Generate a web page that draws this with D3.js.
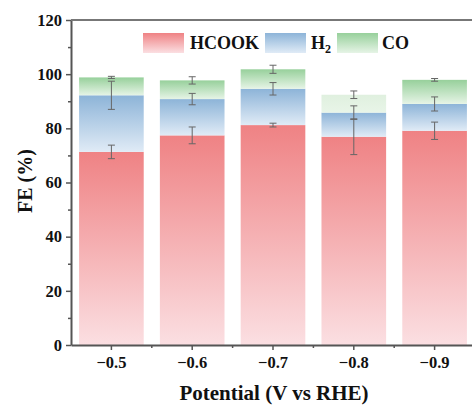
<!DOCTYPE html>
<html lang="en">
<head>
    <meta charset="UTF-8">
    <title>FE stacked bars</title>
    <script src="https://cdn.jsdelivr.net/npm/d3@7/dist/d3.min.js"></script>
    <style>
        body { margin: 0; background: #fff; }
        svg { display: block; }
    </style>
</head>
<body>
<script>
    // data
    const potentials = ['−0.5', '−0.6', '−0.7', '−0.8', '−0.9'];
    const hcook = [71.3, 77.4, 81.2, 76.9, 79.1];
    const h2 = [20.9, 13.4, 13.4, 8.9, 9.9];
    const co = [6.6, 6.9, 7.2, 6.6, 8.9];
    const hcookErr = [2.5, 3.1, 0.7, 6.6, 3.2];
    const h2Err = [5.2, 2.1, 2.3, 2.5, 2.6];
    const coErr = [0.4, 1.35, 1.5, 1.4, 0.5];
    const yTicks = [0, 20, 40, 60, 80, 100, 120];

    const width = 472, height = 408;
    const plotL = 71, plotR = 475, plotT = 20, plotB = 345;
    const serif = "'Liberation Serif', 'Times New Roman', Times, serif";

    const svg = d3.select('body').append('svg')
        .attr('width', width)
        .attr('height', height);

    // gradients (top colour -> pale bottom)
    const defs = svg.append('defs');
    const grads = [
        { id: 'gHcook', c1: '#ef8284', c2: '#fbdfe2' },
        { id: 'gH2', c1: '#8db4d8', c2: '#e0ebf6' },
        { id: 'gCo', c1: '#97d09b', c2: '#e6f4e6' },
        { id: 'gCoPale', c1: '#e0f0df', c2: '#e8f5e8' }
    ];
    grads.forEach(g => {
        const lg = defs.append('linearGradient').attr('id', g.id)
            .attr('x1', 0).attr('y1', 0).attr('x2', 0).attr('y2', 1);
        lg.append('stop').attr('offset', '0%').attr('stop-color', g.c1);
        lg.append('stop').attr('offset', '100%').attr('stop-color', g.c2);
    });

    const x = d3.scaleBand().domain(potentials).range([plotL, plotR]).paddingInner(0.2).paddingOuter(0.1);
    const y = d3.scaleLinear().domain([0, 120]).range([plotB, plotT]);

    // stack the three products
    const rows = potentials.map((p, i) => ({ p: p, HCOOK: hcook[i], H2: h2[i], CO: co[i] }));
    const keys = ['HCOOK', 'H2', 'CO'];
    const errs = { HCOOK: hcookErr, H2: h2Err, CO: coErr };
    const stacked = d3.stack().keys(keys)(rows);
    const fills = { HCOOK: 'url(#gHcook)', H2: 'url(#gH2)', CO: 'url(#gCo)' };

    const layers = svg.append('g').selectAll('g')
        .data(stacked)
        .enter().append('g');

    layers.selectAll('rect')
        .data(d => d.map((v, i) => ({ key: d.key, v: v, i: i })))
        .enter().append('rect')
        .attr('x', d => x(d.v.data.p))
        .attr('width', x.bandwidth())
        .attr('y', d => y(d.v[1]))
        .attr('height', d => y(d.v[0]) - y(d.v[1]))
        .attr('fill', d => (d.key === 'CO' && d.i === 3) ? 'url(#gCoPale)' : fills[d.key]);

    // error bars at each segment top
    const eb = svg.append('g').attr('stroke', '#666').attr('stroke-width', 1);
    stacked.forEach(layer => {
        layer.forEach((v, i) => {
            const cx = x(v.data.p) + x.bandwidth() / 2;
            const e = errs[layer.key][i];
            const y1 = y(v[1] + e), y2 = y(v[1] - e);
            eb.append('line').attr('x1', cx).attr('x2', cx).attr('y1', y1).attr('y2', y2);
            eb.append('line').attr('x1', cx - 3.5).attr('x2', cx + 3.5).attr('y1', y1).attr('y2', y1);
            eb.append('line').attr('x1', cx - 3.5).attr('x2', cx + 3.5).attr('y1', y2).attr('y2', y2);
        });
    });

    // axes
    const yAxis = svg.append('g').attr('transform', `translate(${plotL},0)`)
        .call(d3.axisLeft(y).tickValues(yTicks).tickSize(5).tickPadding(4).tickSizeOuter(0));
    // minor y ticks
    svg.append('g').attr('transform', `translate(${plotL},0)`)
        .call(d3.axisLeft(y).tickValues(d3.range(10, 120, 20)).tickSize(3).tickFormat('').tickSizeOuter(0))
        .call(g => g.select('.domain').remove())
        .selectAll('.tick line').attr('stroke', '#555').attr('stroke-width', 1.5);

    const xAxis = svg.append('g').attr('transform', `translate(0,${plotB})`)
        .call(d3.axisBottom(x).tickSize(5).tickPadding(6).tickSizeOuter(0));
    // minor x ticks between bars
    const minorX = potentials.slice(1).map(p => x(p) - x.step() * x.paddingInner() / 2);
    svg.append('g').selectAll('line').data(minorX).enter().append('line')
        .attr('x1', d => d).attr('x2', d => d)
        .attr('y1', plotB).attr('y2', plotB + 3)
        .attr('stroke', '#555').attr('stroke-width', 1.5);

    [yAxis, xAxis].forEach(a => {
        a.attr('font-family', serif).attr('font-weight', 'bold');
        a.select('.domain').attr('stroke', '#555').attr('stroke-width', 2);
        a.selectAll('.tick line').attr('stroke', '#555').attr('stroke-width', 1.5);
        a.selectAll('.tick text').attr('font-size', 16.5).attr('fill', '#111');
    });

    // top frame line
    svg.append('line')
        .attr('x1', plotL).attr('x2', width).attr('y1', plotT).attr('y2', plotT)
        .attr('stroke', '#777').attr('stroke-width', 2);

    // axis titles
    svg.append('text')
        .attr('transform', `translate(32,181) rotate(-90)`)
        .attr('text-anchor', 'middle')
        .attr('font-family', serif).attr('font-weight', 'bold').attr('font-size', 20).attr('fill', '#111')
        .text('FE (%)');
    svg.append('text')
        .attr('x', 274).attr('y', 400)
        .attr('text-anchor', 'middle')
        .attr('font-family', serif).attr('font-weight', 'bold').attr('font-size', 21).attr('fill', '#111')
        .text('Potential (V vs RHE)');

    // legend
    const legend = [
        { label: 'HCOOK', fill: 'url(#gHcook)', bx: 143, tx: 190 },
        { label: 'H', sub: '2', fill: 'url(#gH2)', bx: 265, tx: 311 },
        { label: 'CO', fill: 'url(#gCo)', bx: 337, tx: 382 }
    ];
    const lg = svg.append('g')
        .attr('font-family', serif).attr('font-weight', 'bold').attr('fill', '#111');
    legend.forEach(d => {
        lg.append('rect').attr('x', d.bx).attr('y', 33).attr('width', 41).attr('height', 20).attr('fill', d.fill);
        const t = lg.append('text').attr('x', d.tx).attr('y', 49).attr('font-size', 18).text(d.label);
        if (d.sub) t.append('tspan').attr('dy', 4).attr('font-size', 12).text(d.sub);
    });
</script>
</body>
</html>
